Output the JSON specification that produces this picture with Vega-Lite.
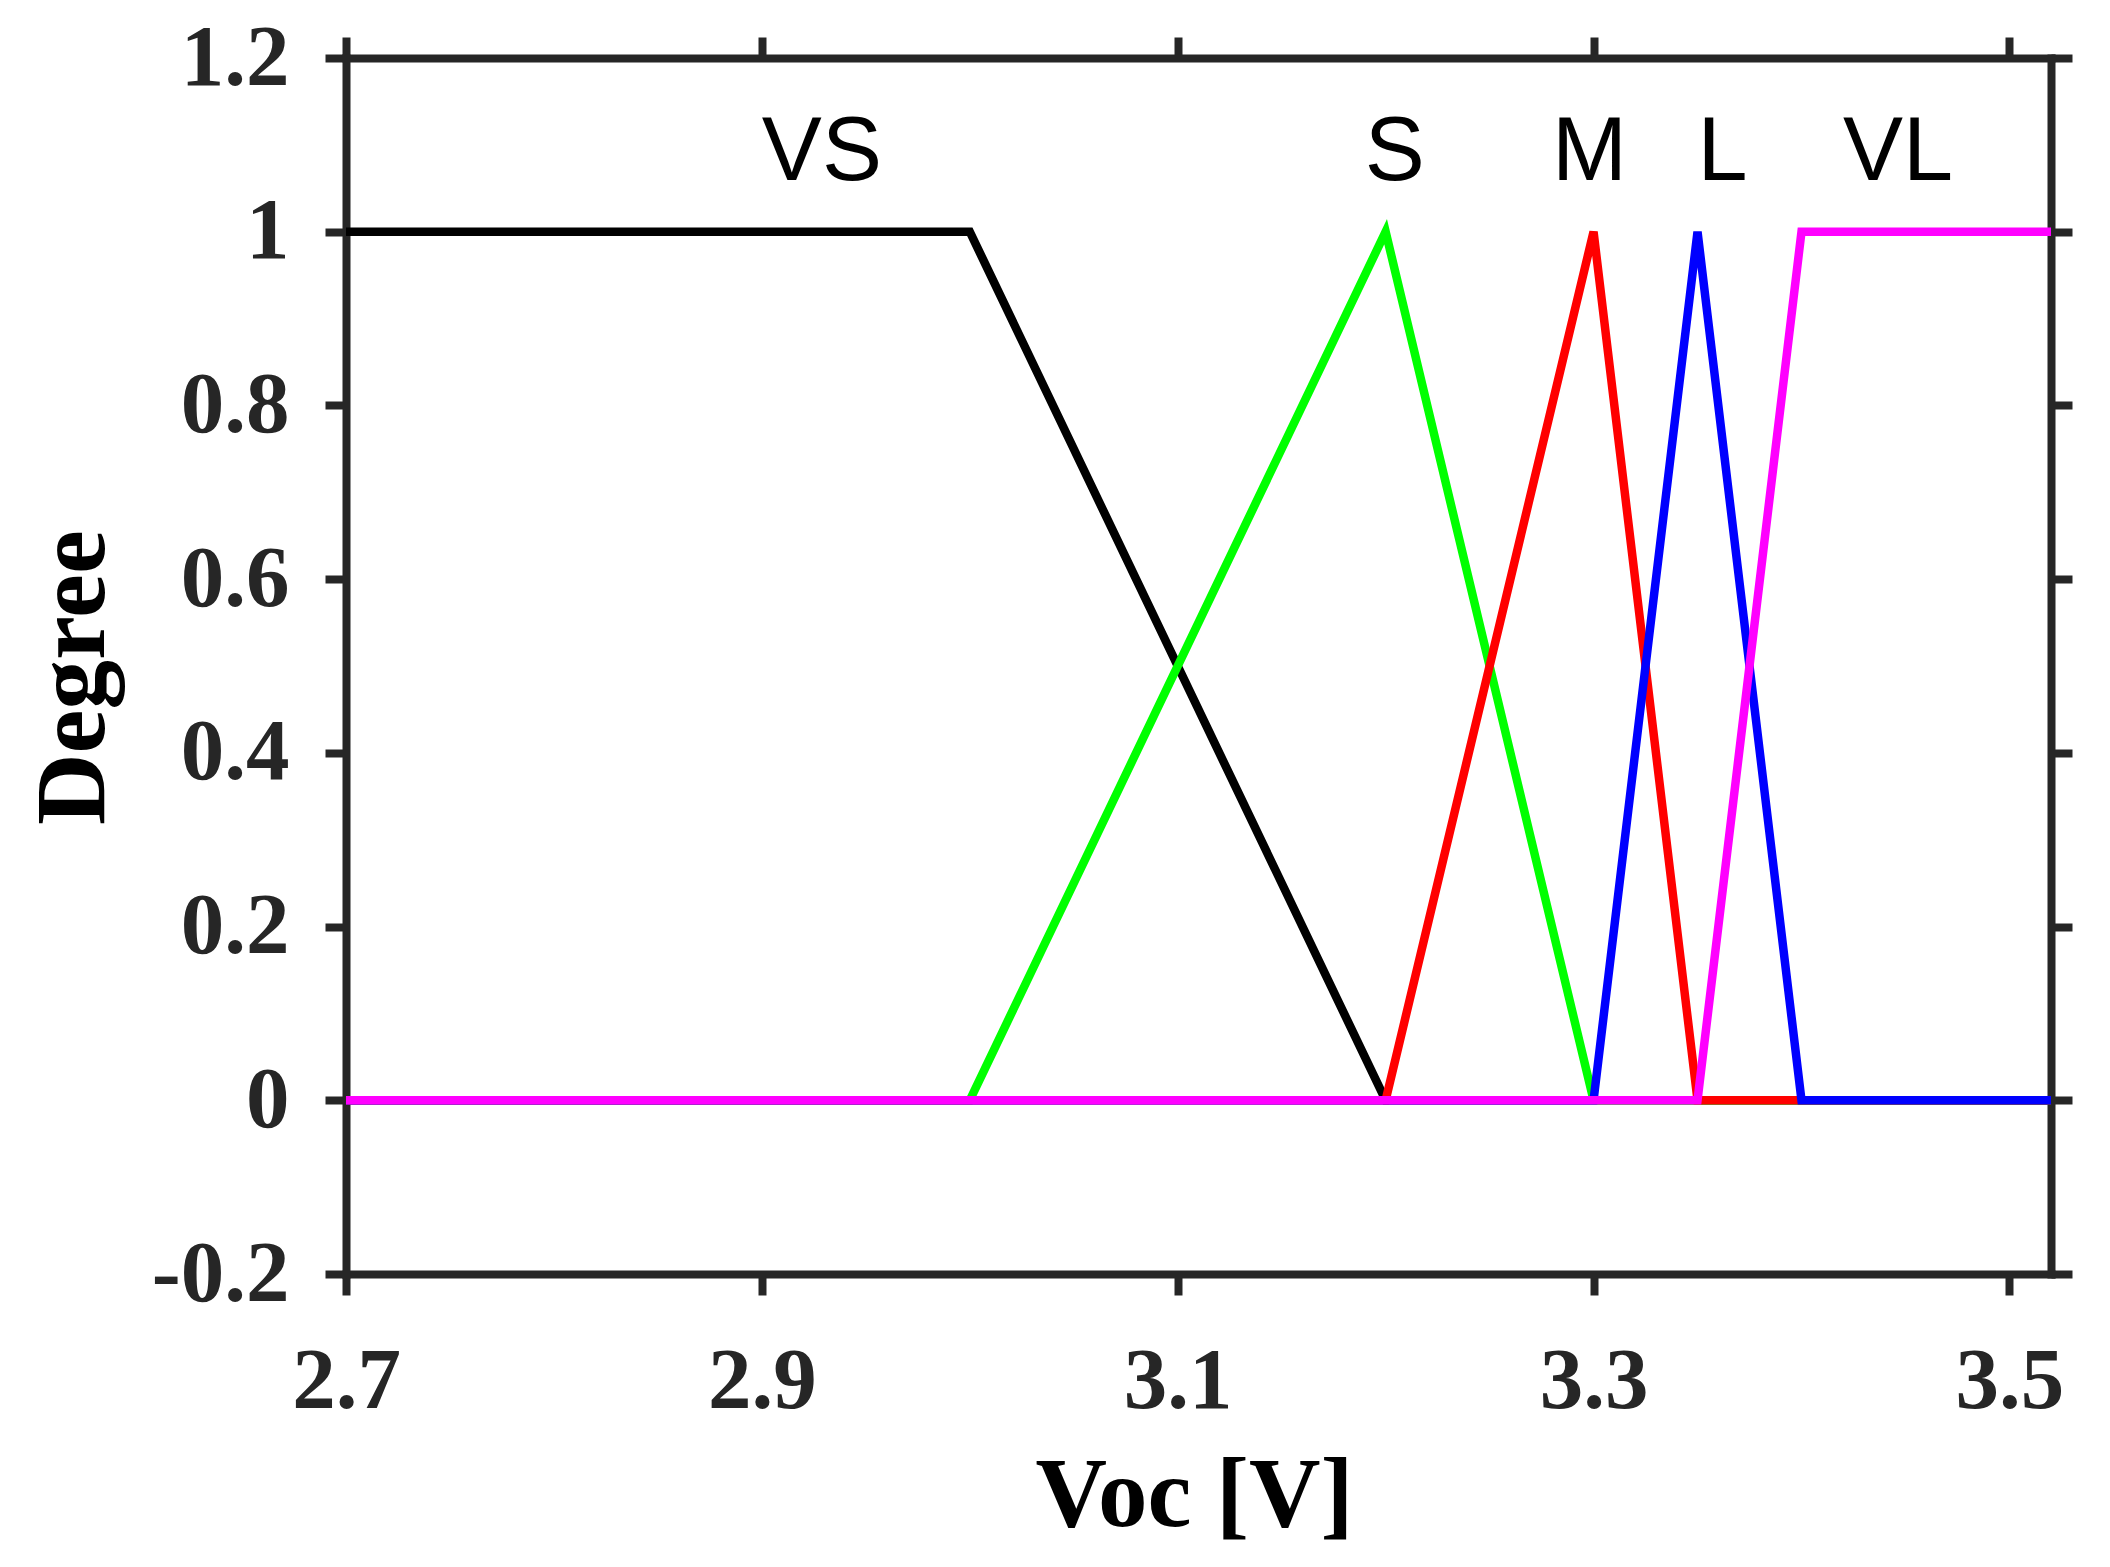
{
  "$schema": "https://vega.github.io/schema/vega-lite/v6.json",
  "width": 1705,
  "height": 1216,
  "autosize": {"type": "none"},
  "padding": {"left": 346, "top": 58, "right": 59, "bottom": 293},
  "background": "white",
  "config": {
    "view": {"stroke": null},
    "axis": {
      "grid": false,
      "domainColor": "#262626",
      "domainWidth": 8,
      "domainCap": "square",
      "tickColor": "#262626",
      "tickWidth": 8,
      "tickSize": 21,
      "labelFont": "Liberation Serif",
      "labelFontWeight": "bold",
      "labelFontSize": 87,
      "labelColor": "#262626",
      "labelFlush": false,
      "labelOverlap": false,
      "titleFont": "Liberation Serif",
      "titleFontWeight": "bold",
      "titleFontSize": 99,
      "titleColor": "#000000"
    }
  },
  "datasets": {
    "lines": [
      {"series": "VS", "x": 2.7, "y": 1},
      {"series": "VS", "x": 3.0, "y": 1},
      {"series": "VS", "x": 3.2, "y": 0},
      {"series": "VS", "x": 3.52, "y": 0},
      {"series": "S", "x": 2.7, "y": 0},
      {"series": "S", "x": 3.0, "y": 0},
      {"series": "S", "x": 3.2, "y": 1},
      {"series": "S", "x": 3.3, "y": 0},
      {"series": "S", "x": 3.52, "y": 0},
      {"series": "M", "x": 2.7, "y": 0},
      {"series": "M", "x": 3.2, "y": 0},
      {"series": "M", "x": 3.3, "y": 1},
      {"series": "M", "x": 3.35, "y": 0},
      {"series": "M", "x": 3.52, "y": 0},
      {"series": "L", "x": 2.7, "y": 0},
      {"series": "L", "x": 3.3, "y": 0},
      {"series": "L", "x": 3.35, "y": 1},
      {"series": "L", "x": 3.4, "y": 0},
      {"series": "L", "x": 3.52, "y": 0},
      {"series": "VL", "x": 2.7, "y": 0},
      {"series": "VL", "x": 3.35, "y": 0},
      {"series": "VL", "x": 3.4, "y": 1},
      {"series": "VL", "x": 3.52, "y": 1}
    ],
    "labels": [
      {"label": "VS", "x": 2.9, "y": 1.06},
      {"label": "S", "x": 3.19, "y": 1.06},
      {"label": "M", "x": 3.28, "y": 1.06},
      {"label": "L", "x": 3.35, "y": 1.06},
      {"label": "VL", "x": 3.42, "y": 1.06}
    ]
  },
  "layer": [
    {
      "data": {"name": "lines"},
      "mark": {"type": "line", "strokeWidth": 8.5},
      "encoding": {
        "x": {
          "field": "x", "type": "quantitative",
          "scale": {"domain": [2.7, 3.52], "nice": false, "zero": false},
          "axis": {
            "orient": "bottom",
            "values": [2.7, 2.9, 3.1, 3.3, 3.5],
            "format": ".1f",
            "labelPadding": 43,
            "title": "Voc [V]",
            "titleBaseline": "alphabetic",
            "titleAlign": "center",
            "titleX": 848,
            "titleY": 251
          }
        },
        "y": {
          "field": "y", "type": "quantitative",
          "scale": {"domain": [-0.2, 1.2], "nice": false, "zero": false},
          "axis": {
            "orient": "left",
            "values": [-0.2, 0, 0.2, 0.4, 0.6, 0.8, 1, 1.2],
            "labelExpr": "'' + datum.value",
            "labelPadding": 36,
            "title": "Degree",
            "titleAngle": 270,
            "titleBaseline": "alphabetic",
            "titleAlign": "center",
            "titleX": -243,
            "titleY": 619
          }
        },
        "color": {
          "field": "series", "type": "nominal",
          "scale": {"domain": ["VS", "S", "M", "L", "VL"], "range": ["#000000", "#00ff00", "#ff0000", "#0000ff", "#ff00ff"]},
          "legend": null
        }
      }
    },
    {
      "data": {"name": "labels"},
      "mark": {"type": "text", "font": "Liberation Sans", "fontSize": 90, "align": "left", "baseline": "alphabetic", "color": "#000000"},
      "encoding": {
        "x": {
          "field": "x", "type": "quantitative",
          "scale": {"domain": [2.7, 3.52], "nice": false, "zero": false},
          "axis": {"orient": "top", "values": [2.7, 2.9, 3.1, 3.3, 3.5], "labels": false, "title": null}
        },
        "y": {
          "field": "y", "type": "quantitative",
          "scale": {"domain": [-0.2, 1.2], "nice": false, "zero": false},
          "axis": {"orient": "right", "values": [-0.2, 0, 0.2, 0.4, 0.6, 0.8, 1, 1.2], "labels": false, "title": null}
        },
        "text": {"field": "label"}
      }
    }
  ],
  "resolve": {"axis": {"x": "independent", "y": "independent"}}
}
